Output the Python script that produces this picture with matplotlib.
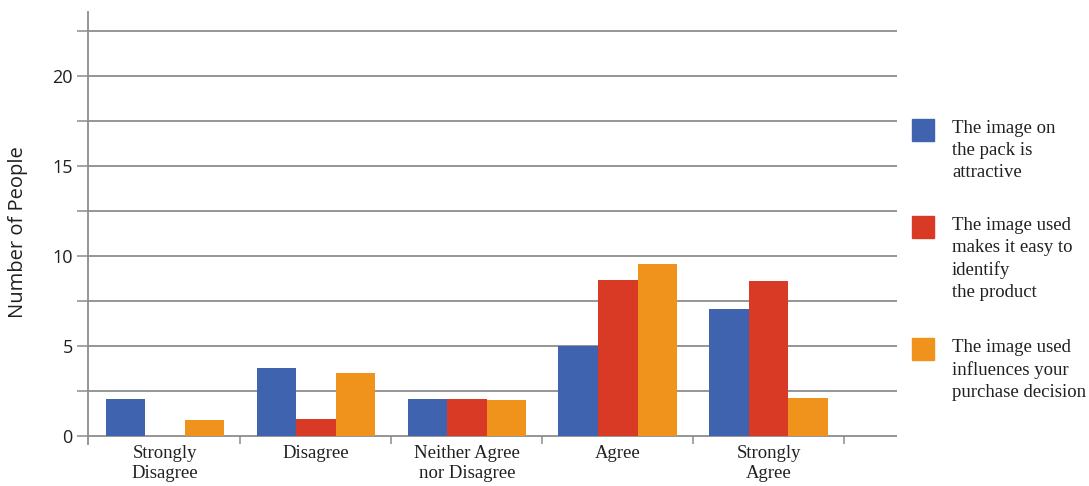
import numpy as np
import matplotlib
matplotlib.use("Agg")
import matplotlib.pyplot as plt
from matplotlib.patches import Rectangle

# data
categories = ["Strongly\nDisagree", "Disagree", "Neither Agree\nnor Disagree", "Agree", "Strongly\nAgree"]
attractive = [2.05, 3.8, 2.05, 5.0, 7.05]
identify = [0.0, 0.95, 2.05, 8.65, 8.6]
influences = [0.9, 3.5, 2.0, 9.55, 2.1]
series_labels = [
    "The image on\nthe pack is\nattractive",
    "The image used\nmakes it easy to\nidentify\nthe product",
    "The image used\ninfluences your\npurchase decision",
]
colors = ["#3F63AE", "#D93A25", "#F0931D"]

W, H = 1089, 486
grid_col = "#8c8c8c"
text_col = "#231f20"
serif = ["Liberation Serif", "DejaVu Serif"]
sans = ["Open Sans", "DejaVu Sans"]

fig = plt.figure(figsize=(W / 100, H / 100), dpi=100)
ax = fig.add_axes([88 / W, 1 - 444 / H, (897 - 88) / W, (444 - 12) / H])

x = np.arange(len(categories))
bw = 0.262
for i, (vals, col) in enumerate(zip([attractive, identify, influences], colors)):
    ax.bar(x + (i - 1) * bw, vals, width=bw, color=col, zorder=3)

ax.set_xlim(-0.51, 4.85)
ax.set_ylim(-8 / 18, 424 / 18)

ax.set_yticks([0, 5, 10, 15, 20])
ax.set_yticks(np.arange(2.5, 23, 5), minor=True)
ax.grid(True, axis="y", which="both", color=grid_col, lw=1.3, zorder=1)
ax.tick_params(axis="y", which="both", length=8, width=1.1, color=grid_col,
               pad=3, labelsize=13, labelcolor=text_col)
for lab in ax.get_yticklabels():
    lab.set_family(sans)

ax.set_xticks(x)
ax.set_xticklabels(categories, family=serif, fontsize=13.5, color=text_col, linespacing=1.2)
ax.set_xticks(np.arange(0.5, 5, 1), minor=True)
ax.tick_params(axis="x", which="major", length=0, pad=1)
ax.tick_params(axis="x", which="minor", direction="in", length=5.8, width=1.1, color=grid_col)

for s in ["top", "right", "bottom"]:
    ax.spines[s].set_visible(False)
ax.spines["left"].set_color(grid_col)
ax.spines["left"].set_linewidth(1.3)

fig.text(18 / W, 1 - 232 / H, "Number of People", rotation=90, ha="center", va="center",
         family=sans, fontsize=14.5, color=text_col)

# legend drawn by hand to match the layout
sq_tops = [119, 216, 338]
for top, lab, col in zip(sq_tops, series_labels, colors):
    fig.add_artist(Rectangle((912 / W, 1 - (top + 22) / H), 22 / W, 22 / H,
                             transform=fig.transFigure, color=col))
    fig.text(952 / W, 1 - (top + 1) / H, lab, ha="left", va="top",
             family=serif, fontsize=13.5, color=text_col, linespacing=1.38)

fig.savefig("out.png", dpi=100)
